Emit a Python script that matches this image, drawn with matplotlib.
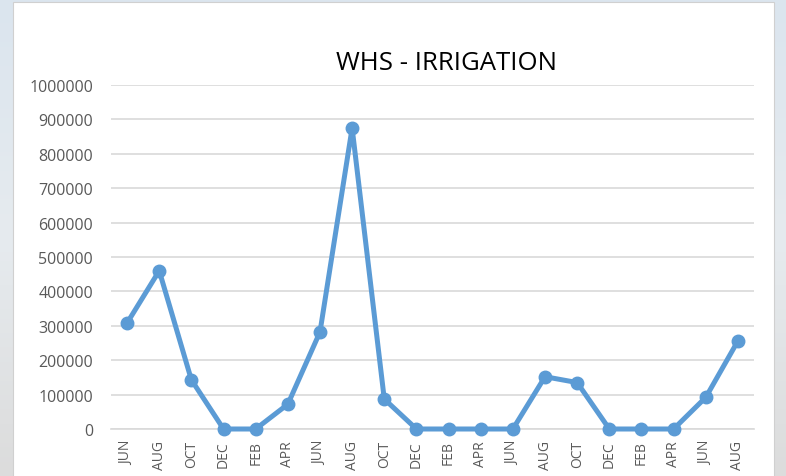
import matplotlib
matplotlib.use("Agg")
import matplotlib.pyplot as plt
from matplotlib.patches import Rectangle
import numpy as np

months = ["JUN", "AUG", "OCT", "DEC", "FEB", "APR", "JUN", "AUG", "OCT", "DEC",
          "FEB", "APR", "JUN", "AUG", "OCT", "DEC", "FEB", "APR", "JUN", "AUG"]
values = [308000, 460000, 143000, 0, 0, 72000, 282000, 875000, 87000, 0,
          0, 0, 0, 152000, 135000, 0, 0, 0, 92000, 256000]
yticks = [0, 100000, 200000, 300000, 400000, 500000, 600000, 700000, 800000, 900000, 1000000]

W, H = 786, 477
fig = plt.figure(figsize=(W / 100, H / 100), dpi=100)
fig.patch.set_facecolor("#e2e8ed")

# white chart panel (background axes)
bg = fig.add_axes([0, 0, 1, 1], zorder=-1)
bg.set_xlim(0, W)
bg.set_ylim(H, 0)
bg.axis("off")
grad = np.linspace(0, 1, 100).reshape(-1, 1)
bg.imshow(grad, extent=(0, W, H, 0), aspect="auto",
          cmap=matplotlib.colors.LinearSegmentedColormap.from_list(
              "bgc", ["#dbe5ee", "#e6ebef", "#dcdcdc"]), zorder=0)
bg.add_patch(Rectangle((13, 3), 774 - 13, H, facecolor="white",
                       edgecolor="#d0d0d0", linewidth=0.8, zorder=1))

ax = fig.add_axes([111 / W, (H - 430) / H, (754 - 111) / W, (430 - 86) / H], zorder=1)
ax.set_facecolor("none")
x = np.arange(len(months))
ax.plot(x, values, color="#5B9BD5", linewidth=3.6, marker="o", markersize=9,
        solid_capstyle="round", solid_joinstyle="round", zorder=3, clip_on=False)
ax.set_xlim(-0.5, len(months) - 0.5)
ax.set_ylim(0, 1000000)
ax.set_yticks(yticks)
ax.set_yticklabels([str(v) for v in yticks], fontsize=11.5, color="#595959", family="Open Sans")
ax.set_xticks(x)
ax.set_xticklabels(months, rotation=90, fontsize=10, color="#595959", family="Open Sans")
ax.grid(axis="y", color="#d9d9d9", linewidth=1.2)
ax.set_axisbelow(True)
for s in ["top", "right", "left"]:
    ax.spines[s].set_visible(False)
ax.spines["bottom"].set_color("#d9d9d9")
ax.spines["bottom"].set_linewidth(1.2)
ax.tick_params(axis="y", length=0, pad=13)
ax.tick_params(axis="x", length=0, pad=8)

fig.text(447 / W, 1 - 63 / H, "WHS - IRRIGATION", ha="center", va="center",
         fontsize=18.5, color="#000000", family="Open Sans")

fig.savefig("out.png", dpi=100, facecolor=fig.get_facecolor())
